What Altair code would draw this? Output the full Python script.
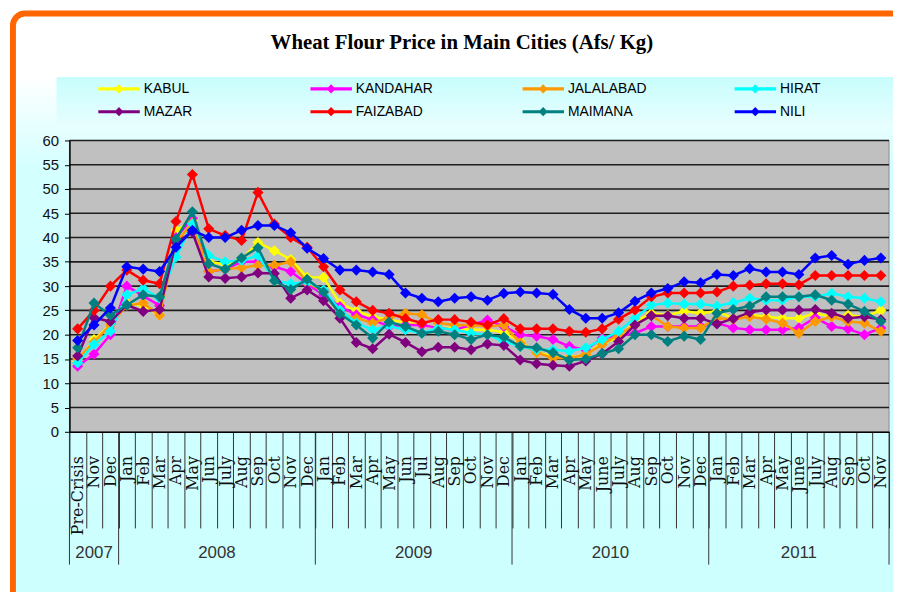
import altair as alt
import pandas as pd

# ---------------- data ----------------
months = ["Pre-Crisis", "Nov", "Dec",
          "Jan", "Feb", "Mar", "Apr", "May", "Jun", "July", "Aug", "Sep", "Oct", "Nov", "Dec",
          "Jan", "Feb", "Mar", "Apr", "May", "Jun", "Jul", "Aug", "Sep", "Oct", "Nov", "Dec",
          "Jan", "Feb", "Mar", "Apr", "May", "June", "July", "Aug", "Sep", "Oct", "Nov", "Dec",
          "Jan", "Feb", "Mar", "Apr", "May", "June", "July", "Aug", "Sep", "Oct", "Nov"]
month_year = [2007] * 3 + [2008] * 12 + [2009] * 12 + [2010] * 12 + [2011] * 11
years = [2007, 2008, 2009, 2010, 2011]

cities = ["KABUL", "KANDAHAR", "JALALABAD", "HIRAT", "MAZAR", "FAIZABAD", "MAIMANA", "NILI"]
colors = ["#ffff00", "#ff00ff", "#ff9900", "#00ffff", "#800080", "#ff0000", "#008080", "#0000ff"]

kabul = [14.5, 19, 22, 26.5, 26, 24, 41.5, 43.5, 35, 34.5, 35.5, 39, 37.3, 35.5, 31.8, 31.8,
         26.5, 24.9, 23.7, 23.1, 22.5, 22, 21.5, 21.4, 21, 21, 20.5, 18.6, 16.3, 15.6, 15.3,
         15.9, 18.3, 19.3, 22.7, 24.4, 24, 24.8, 24.4, 24.8, 23.4, 24.1, 23.7, 23.4, 23.4,
         24.4, 23.7, 24, 23.7, 25]
kandahar = [13.5, 16, 20, 30, 28, 26, 40, 44, 33, 33.5, 35, 35, 34, 33, 30.5, 28.2, 25.8,
            24.1, 23.1, 21.7, 22, 22, 21.4, 21, 22, 23, 21.7, 20, 19.7, 19, 17.6, 16.9, 19.3,
            19.7, 20.3, 21.7, 21.7, 21.7, 21.7, 22.4, 21.4, 21, 21, 21, 21.4, 23.5, 21.7,
            21.2, 20, 21.4]
jalalabad = [15, 18.5, 22, 26, 26.5, 24, 39, 43, 33, 33.5, 33.8, 34.3, 34.3, 35, 30.7, 29,
             24.1, 23.4, 22.4, 23.5, 24.4, 24.1, 22.4, 22, 22, 21.7, 22, 18.3, 16.3, 15.2,
             15.2, 15.9, 18, 20, 22, 24, 21.7, 21.4, 21.4, 23.4, 23.2, 23.7, 23.2, 22.4, 20.3,
             22.7, 23.7, 22.7, 22.4, 20.7]
hirat = [14.2, 18, 20.7, 28.2, 29.5, 27.5, 36, 42.8, 36.3, 35, 35.3, 36.3, 31.2, 30.5, 30.9,
         29.2, 25.1, 22.4, 21, 21.8, 21, 20.3, 21.4, 21, 20.3, 20, 18.6, 17.6, 16.9, 16.9,
         16.6, 17.3, 19, 20.7, 23.4, 26.1, 26.5, 26.3, 26.3, 25.9, 26.6, 27.5, 27.1, 27.1,
         27.8, 27.8, 28.5, 27.8, 27.5, 26.8]
mazar = [15.6, 23.5, 22.7, 26.1, 24.8, 25.2, 39, 41.1, 31.9, 31.6, 31.9, 32.7, 32.6, 27.5,
         29.2, 27, 23.4, 18.4, 17.1, 20.1, 18.4, 16.5, 17.4, 17.4, 16.9, 18.1, 17.8, 14.8, 14,
         13.7, 13.5, 14.6, 16.1, 18.6, 22, 23.9, 23.9, 23.4, 23.4, 22.2, 23.3, 24.6, 25.1,
         25.1, 25.1, 25.2, 24.4, 23.4, 23.7, 23.1]
faizabad = [21.2, 25, 30, 33.3, 31.2, 30.5, 43.3, 53, 41.8, 40.4, 39.4, 49.3, 42.8, 40, 38,
            34, 29.2, 26.8, 25, 24.4, 23.3, 22.4, 23.1, 23.1, 22.6, 22, 23.3, 21.2, 21.2,
            21.2, 20.7, 20.5, 21.2, 23.2, 25.1, 27.8, 28.6, 28.6, 28.6, 28.8, 30, 30.2, 30.5,
            30.5, 30.3, 32.2, 32.2, 32.2, 32.2, 32.2]
maimana = [17.3, 26.5, 24, 26.1, 28.2, 27.8, 39.7, 45.3, 34.6, 33.5, 35.8, 37.9, 31.1, 29.3,
           31.4, 28.8, 24.3, 22, 19.3, 22.6, 21.7, 20.3, 20.7, 20, 19, 20, 19.5, 17.6, 17.3,
           16.3, 14.8, 15, 16.1, 17.1, 20, 20, 18.6, 19.7, 19, 24.4, 25.2, 25.9, 27.8, 27.8,
           27.8, 28.2, 27.1, 26.3, 24.8, 22.7]
nili = [18.8, 22, 25.5, 34, 33.5, 33, 38, 41.5, 40, 40, 41.5, 42.5, 42.5, 41, 37.8, 35.7,
        33.3, 33.3, 32.9, 32.4, 28.6, 27.5, 26.8, 27.5, 27.8, 27.1, 28.5, 28.8, 28.6, 28.3,
        25.2, 23.4, 23.4, 24.5, 26.9, 28.6, 29.5, 30.9, 30.7, 32.4, 32.2, 33.6, 32.9, 32.9,
        32.4, 35.8, 36.3, 34.5, 35.3, 35.8]

series = [kabul, kandahar, jalalabad, hirat, mazar, faizabad, maimana, nili]
y_ticks = list(range(0, 61, 5))
title_text = "Wheat Flour Price in Main Cities (Afs/ Kg)"

# ---------------- tables ----------------
keys = [f"{y}|{i:02d}|{m}" for i, (y, m) in enumerate(zip(month_year, months))]
rows = []
for c, vals in zip(cities, series):
    for k, v in zip(keys, vals):
        rows.append({"key": k, "city": c, "price": v})
df = pd.DataFrame(rows)

year_start = [keys[month_year.index(y)] for y in years]
year_count = [month_year.count(y) for y in years]
mid_even, mid_odd = [], []
for y, cnt in zip(years, year_count):
    s = month_year.index(y)
    if cnt % 2 == 0:
        mid_even.append({"key": keys[s + cnt // 2], "year": str(y)})
    else:
        mid_odd.append({"key": keys[s + cnt // 2], "year": str(y)})
df_even = pd.DataFrame(mid_even)
df_odd = pd.DataFrame(mid_odd)
df_ystart = pd.DataFrame({"key": year_start})
df_yend = pd.DataFrame({"key": [keys[-1]]})
df_grid = pd.DataFrame({"g": y_ticks[1:]})
one = pd.DataFrame({"t": [title_text]})

# ---------------- layout ----------------
W, H = 827, 294
xscale = alt.Scale(type="band", domain=keys, paddingInner=0, paddingOuter=0)
yscale = alt.Scale(domain=[0, 60], nice=False)
cscale = alt.Scale(domain=cities, range=colors)

x_axis = alt.Axis(title=None, labelExpr="split(datum.label, '|')[2]", labelAngle=-90,
                  labelFont="DejaVu Serif", labelFontSize=16, labelColor="#111",
                  labelOverlap=False, labelPadding=-73, labelFlush=False, labelBound=False,
                  tickBand="extent", tickSize=97, tickColor="#333", tickWidth=1,
                  domainColor="#000", domainWidth=1.5, grid=False, zindex=1)
y_axis = alt.Axis(title=None, values=y_ticks, labelFont="Liberation Sans", labelFontSize=15,
                  labelColor="#111", tickSize=5, tickColor="#000", domainColor="#000",
                  domainWidth=1.5, labelPadding=6, grid=False, zindex=1)

LEG_PATH = ("M-1,-0.075L1,-0.075L1,0.075L-1,0.075Z "
            "M0,-0.22L0.22,0L0,0.22L-0.22,0Z")
legend = alt.Legend(title=None, orient="none", legendX=29, legendY=-61, columns=4,
                    direction="horizontal", clipHeight=18,
                    symbolType=LEG_PATH, symbolSize=1764, symbolStrokeWidth=0,
                    symbolOpacity=1, labelFont="Liberation Sans", labelFontSize=14,
                    labelColor="#000", labelOffset=4, columnPadding=88, rowPadding=5,
                    gridAlign="all", padding=0, zindex=1)

bg = alt.Chart(one).mark_rect(
    cornerRadius=12, stroke="#ff6600", strokeWidth=6,
    fill=alt.Gradient(gradient="linear", x1=0, x2=0, y1=0, y2=1, stops=[
        alt.GradientStop(color="#ffffff", offset=0),
        alt.GradientStop(color="#ffffff", offset=0.1),
        alt.GradientStop(color="#d4ffff", offset=0.24),
        alt.GradientStop(color="#ccffff", offset=1)])
).encode(x=alt.value(-57), x2=alt.value(880), y=alt.value(-128), y2=alt.value(520))

band = alt.Chart(one).mark_rect(
    fill=alt.Gradient(gradient="linear", x1=0, x2=0, y1=0, y2=1, stops=[
        alt.GradientStop(color="#c8fdfd", offset=0),
        alt.GradientStop(color="#e6fefe", offset=1)])
).encode(x=alt.value(-13), x2=alt.value(840), y=alt.value(-64), y2=alt.value(-17))

plot_bg = alt.Chart(one).mark_rect(fill="#c0c0c0", stroke="#8c8c8c", strokeWidth=1).encode(
    x=alt.value(0), x2=alt.value(W), y=alt.value(0), y2=alt.value(H))

grid = alt.Chart(df_grid).mark_rule(color="#1e1e1e", strokeWidth=1.6).encode(
    y=alt.Y("g:Q", scale=yscale, axis=y_axis), x=alt.value(0), x2=alt.value(W))

yr_rules = alt.Chart(df_ystart).mark_rule(color="#333", strokeWidth=1).encode(
    x=alt.X("key:N", scale=xscale, bandPosition=0, axis=x_axis),
    y=alt.value(H), y2=alt.value(H + 134))
yr_end = alt.Chart(df_yend).mark_rule(color="#333", strokeWidth=1).encode(
    x=alt.X("key:N", scale=xscale, bandPosition=1, axis=x_axis),
    y=alt.value(H), y2=alt.value(H + 134))

yr_text_even = alt.Chart(df_even).mark_text(
    font="Liberation Sans", fontSize=17, color="#333", baseline="middle").encode(
    x=alt.X("key:N", scale=xscale, bandPosition=0, axis=x_axis),
    y=alt.value(H + 122), text="year:N")
yr_text_odd = alt.Chart(df_odd).mark_text(
    font="Liberation Sans", fontSize=17, color="#333", baseline="middle").encode(
    x=alt.X("key:N", scale=xscale, bandPosition=0.5, axis=x_axis),
    y=alt.value(H + 122), text="year:N")

title = alt.Chart(one).mark_text(
    font="Liberation Serif", fontSize=21, fontWeight="bold", color="#000",
    baseline="middle").encode(x=alt.value(396), y=alt.value(-98), text="t:N")

layers = [bg, band, plot_bg, grid, yr_rules, yr_end, yr_text_even, yr_text_odd, title]
for i, c in enumerate(cities):
    base = alt.Chart(df).transform_filter(alt.datum.city == c)
    line = base.mark_line(strokeWidth=2.5).encode(
        x=alt.X("key:N", scale=xscale, bandPosition=0.5, sort=keys, axis=x_axis),
        y=alt.Y("price:Q", scale=yscale, axis=y_axis),
        color=alt.Color("city:N", scale=cscale, legend=None))
    pts = base.mark_point(shape="diamond", filled=True, size=125, opacity=1).encode(
        x=alt.X("key:N", scale=xscale, bandPosition=0.5, sort=keys, axis=x_axis),
        y=alt.Y("price:Q", scale=yscale, axis=y_axis),
        color=alt.Color("city:N", scale=cscale, legend=legend))
    # the first series carries the legend definition, so its points come first
    layers += [pts, line] if i == 0 else [line, pts]

chart = alt.layer(*layers).properties(
    width=W, height=H, autosize="none",
    padding={"left": 62, "top": 131, "right": 4, "bottom": 159}
).configure_view(strokeWidth=0).configure(background="white")

chart.save("out.html", embed_options={"renderer": "svg", "actions": False})
